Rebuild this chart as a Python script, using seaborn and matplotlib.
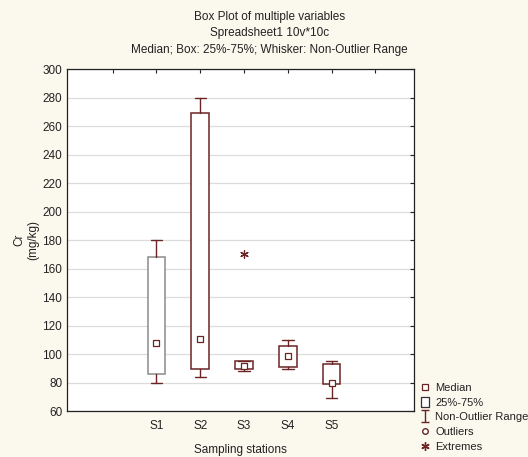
import matplotlib
matplotlib.use("Agg")
import matplotlib.pyplot as plt
import seaborn as sns
import pandas as pd
from matplotlib.lines import Line2D
from matplotlib.path import Path

# Box statistics (mg/kg)
stations = ["S1", "S2", "S3", "S4", "S5"]
medians = [108, 111, 91.5, 99, 79.5]
q1 = [86, 90, 90, 91, 79]
q3 = [168.5, 269, 95, 106, 93]
whislo = [80, 84, 88, 90, 69.5]
whishi = [180, 280, 95, 110, 95]
extreme_station = ["S3"]
extreme_value = [170]

maroon = "#6b2424"
bg = "#fbf8ee"

sns.set_style("white")
plt.rcParams["font.family"] = ["Liberation Sans", "DejaVu Sans"]

fig = plt.figure(figsize=(5.28, 4.57), dpi=100, facecolor=bg)
ax = fig.add_axes([0.127, 0.1, 0.657, 0.749])
ax.set_facecolor("white")

pos = list(range(len(stations)))
stats = []
for i, s in enumerate(stations):
    stats.append({"label": s, "med": medians[i], "q1": q1[i], "q3": q3[i],
                  "whislo": whislo[i], "whishi": whishi[i], "fliers": []})

box_edges = ["#8a8a8a", maroon, maroon, maroon, maroon]
res = ax.bxp(stats, positions=pos, widths=0.4, showfliers=False,
             patch_artist=True,
             boxprops=dict(facecolor="white", linewidth=1.1),
             whiskerprops=dict(color=maroon, linewidth=1.0),
             capprops=dict(color=maroon, linewidth=1.0),
             medianprops=dict(linewidth=0, alpha=0))
for b, c in zip(res["boxes"], box_edges):
    b.set_edgecolor(c)
for cap in res["caps"]:
    x = cap.get_xdata()
    m = (x[0] + x[1]) / 2
    cap.set_xdata([m - 0.13, m + 0.13])

# median markers and extreme value
med_df = pd.DataFrame({"x": pos, "y": medians})
sns.scatterplot(data=med_df, x="x", y="y", marker="s", s=18,
                facecolor="white", edgecolor=maroon, linewidth=0.9, ax=ax, zorder=5)
ext_df = pd.DataFrame({"x": [stations.index(s) for s in extreme_station], "y": extreme_value})
sns.scatterplot(data=ext_df, x="x", y="y", marker=(6, 2, 0), s=30,
                color=maroon, linewidth=0.9, ax=ax, zorder=5)

ax.set_xlim(-2.04, 5.88)
ax.set_ylim(60, 300)
ax.set_yticks(range(60, 301, 20))
ax.set_xticks(range(-1, 6))
ax.set_xticklabels([""] + stations + [""])
ax.yaxis.grid(True, color="#dcdcdc", linewidth=0.9)
ax.set_axisbelow(True)
for sp in ax.spines.values():
    sp.set_color("#222222")
    sp.set_linewidth(0.9)
ax.tick_params(direction="in", length=3, width=0.8, colors="#222222",
               labelsize=8.5, top=True, right=True, labelcolor="#222222")
ax.tick_params(axis="x", pad=6)

ax.set_xlabel("Sampling stations", fontsize=8.5, color="#222222", labelpad=9)
ax.set_ylabel("Cr\n(mg/kg)", fontsize=8.5, color="#222222", labelpad=2)

fig.text(0.51, 0.963, "Box Plot of multiple variables", ha="center", va="center", fontsize=8.5, color="#222222")
fig.text(0.51, 0.927, "Spreadsheet1 10v*10c", ha="center", va="center", fontsize=8.5, color="#222222")
fig.text(0.51, 0.891, "Median; Box: 25%-75%; Whisker: Non-Outlier Range", ha="center", va="center", fontsize=8.5, color="#222222")

# legend symbols
whisker_mark = Path([(-0.7, 1), (0.7, 1), (0, 1), (0, -1), (-0.7, -1), (0.7, -1)],
                    [Path.MOVETO, Path.LINETO, Path.MOVETO, Path.LINETO, Path.MOVETO, Path.LINETO])
box_mark = Path([(-0.8, -1), (0.8, -1), (0.8, 1), (-0.8, 1), (-0.8, -1)])

handles = [
    Line2D([], [], linestyle="none", marker="s", markersize=4, markerfacecolor="white",
           markeredgecolor=maroon, markeredgewidth=0.9),
    Line2D([], [], linestyle="none", marker=box_mark, markersize=7.5, markerfacecolor="white",
           markeredgecolor="#333333", markeredgewidth=0.9),
    Line2D([], [], linestyle="none", marker=whisker_mark, markersize=9, markerfacecolor="none",
           markeredgecolor=maroon, markeredgewidth=1.0),
    Line2D([], [], linestyle="none", marker="o", markersize=4, markerfacecolor="white",
           markeredgecolor=maroon, markeredgewidth=1.0),
    Line2D([], [], linestyle="none", marker=(6, 2, 0), markersize=6, color=maroon),
]
labels = ["Median", "25%-75%", "Non-Outlier Range", "Outliers", "Extremes"]
fig.legend(handles, labels, loc="upper left", bbox_to_anchor=(0.797, 0.162),
           frameon=False, fontsize=8, handlelength=0.8, handletextpad=0.5,
           labelspacing=0.42, borderaxespad=0, borderpad=0, labelcolor="#222222")

fig.savefig("out.png", dpi=100, facecolor=bg)
